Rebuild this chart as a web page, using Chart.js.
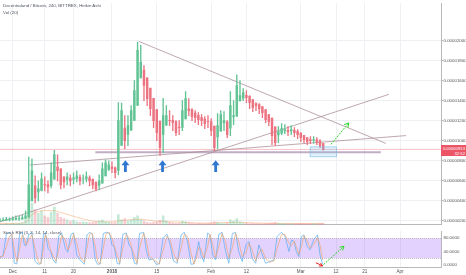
<!DOCTYPE html>
<html><head><meta charset="utf-8">
<script src="https://cdn.jsdelivr.net/npm/chart.js@4.4.1/dist/chart.umd.min.js"></script>
<style>
html,body{margin:0;padding:0;background:#fff;width:466px;height:275px;overflow:hidden;position:relative;font-family:"Liberation Sans",Arial,sans-serif;}
#main{position:absolute;left:0;top:0;}
#stoch{position:absolute;left:0;top:228px;}
.lbl{position:absolute;color:#4c525e;font-size:4.4px;white-space:nowrap;line-height:1;}
#price{position:absolute;left:441px;width:25px;height:11px;background:#ec5566;color:#fff;font-size:4.2px;text-align:right;line-height:5px;box-sizing:border-box;padding:0.6px 1px 0 0;}
</style></head><body>
<canvas id="main" width="466" height="228"></canvas>
<canvas id="stoch" width="466" height="47"></canvas>
<div class="lbl" style="left:3px;top:4px">Decentraland / Bitcoin, 240, BITTREX, Heikin Ashi</div>
<div class="lbl" style="left:3px;top:11px">Vol (20)</div>
<div class="lbl" style="left:3px;top:231px">Stoch RSI (3, 3, 14, 14, close)</div>
<div id="price"><div>0.00000913</div><div>32:52</div></div>
<script>
// ---- DATA (prices in 1e-8 BTC, x in days since Dec 1 2017) ----
const FIRST_DAY = -4;
const FIRST_OPEN = 200;
const closes = [205,210,215,212,220,225,222,230,
250,560,700,430,520,620,560,540,
680,860,700,560,590,640,600,630,
650,600,620,640,600,560,520,600,
720,780,760,720,680,1200,1300,1000,
1150,1300,1500,1900,1780,1550,1420,1320,
1200,1080,930,1250,1250,1200,1180,1080,
1130,1300,1420,1300,1240,1230,1210,1200,
1170,1190,1100,930,1150,1260,1200,1060,
1350,1250,1550,1450,1480,1430,1380,1330,
1350,1320,1280,1210,1190,1050,980,1090,
1120,1110,1090,1110,1080,1060,1030,1010,
990,1000,1010,990,950,913];
const highs = [225,230,235,230,240,250,245,260,
300,836,820,650,600,680,640,600,
780,905,860,680,640,680,660,680,
700,660,660,690,650,620,570,660,
780,810,800,790,740,1380,1376,1250,
1250,1350,1600,1980,1950,1750,1550,1420,
1320,1200,1080,1422,1350,1300,1250,1200,
1200,1400,1490,1420,1320,1300,1280,1260,
1240,1250,1220,1100,1270,1300,1290,1200,
1490,1400,1657,1600,1520,1500,1450,1400,
1380,1370,1330,1290,1250,1200,1080,1140,
1170,1160,1140,1150,1130,1110,1080,1050,
1030,1040,1040,1030,1010,960];
const lows = [195,200,205,200,205,210,205,215,
220,240,520,380,400,500,500,480,
530,650,600,520,530,560,550,570,
590,560,570,590,550,520,500,510,
590,700,700,680,630,660,1100,920,
950,1100,1250,1450,1650,1400,1350,1250,
1130,1000,853,880,1150,1150,1100,1050,
1060,1100,1250,1250,1200,1180,1160,1150,
1120,1130,1050,900,920,1150,1100,1030,
1050,1160,1250,1400,1400,1380,1320,1290,
1300,1270,1230,1180,1150,960,951,980,
1060,1070,1050,1060,1040,1020,990,980,
960,970,975,960,930,905];
const volumes = [3,2,4,3,5,4,6,8,
20,100,85,60,45,55,35,30,
50,70,45,30,25,20,15,18,
12,10,12,10,8,10,12,15,
20,12,10,8,10,40,20,25,
15,20,30,35,20,15,10,8,
10,12,18,35,15,10,8,6,
8,15,12,8,6,5,6,5,
5,6,8,12,10,6,5,8,
20,15,25,12,8,6,5,6,
5,5,4,5,6,8,10,6,
5,4,5,4,4,5,4,5,
4,4,5,4,5,6];
const volMaDays = [-4,4,6,9,13,16,20,25,30,35,40,45,50,60,70,80,97];
const volMaVals = [5,10,40,55,55,45,30,15,12,18,22,14,12,7,10,6,5];
const lastPrice = 913;

const kDays = [-4,-3,-2,-1,-0.3,0.5,1.3,2.2,3,3.6,4.2,5,6,7,8,8.8,9.6,10.2,11,11.8,12.6,13.5,14.4,15.3,16.4,17.2,18.2,19,20,21,22.4,23.2,24,24.8,25.8,26.5,27.3,28.3,29.2,30.2,31,31.7,32.6,33.4,34.4,35.5,36.3,37.1,38,38.8,39.6,40.9,41.8,42.6,43.8,44.8,45.8,47,48.2,49.2,50.2,51.4,52.6,53.6,54.6,55.7,56.6,57.4,58.1,58.8,59.7,60.9,61.6,62.5,63.4,64.4,65.4,66.5,67.5,68.6,69.6,70.6,71.7,72.8,73.8,74.8,75.9,76.9,77.8,79,80.2,81.6,82.6,83.9,85,86.3,87.1,87.9,88.6,89.4,90.2,91,92,92.9,94,95.2,96,96.8];
const kVals = [20,30,92,98,90,5,3,96,98,60,58,92,96,10,2,4,92,96,50,40,15,5,88,96,50,38,92,96,30,15,2,90,98,94,15,2,3,94,98,96,60,55,5,2,92,96,60,50,5,2,94,98,40,15,18,2,3,82,92,60,12,5,90,98,70,2,3,35,70,30,10,96,90,30,15,92,98,40,5,94,98,40,10,60,70,20,5,60,35,5,10,15,85,98,88,40,75,70,40,25,85,90,55,45,75,90,30,2];
const dVals = [25,26,55,85,93,45,10,50,90,80,60,75,90,50,8,3,50,90,75,45,28,12,45,90,75,45,65,92,65,25,8,50,92,95,55,10,3,50,95,96,80,58,30,5,50,92,80,55,28,5,50,95,70,28,16,10,3,45,86,75,35,10,50,92,85,35,3,20,52,50,20,55,92,60,22,55,94,70,22,50,95,70,25,35,65,45,12,35,48,20,8,12,50,90,92,65,58,72,55,32,55,88,72,50,60,82,60,15];

const tickDays = [0,10,19,31,45,62,73,90,101,110,121];
const tickLabels = ['Dec','11','20','2018','15','Feb','12','Mar','12','21','Apr'];
const priceTicks = [200,400,600,800,1000,1200,1400,1600,1800,2000];
const stochTicks = [0,40,80];

// drawings (data coordinates)
const trendLines = [
  [[39.4,1990],[116.6,973]],
  [[-4,190],[117.5,1462]],
  [[5.4,758],[122.9,1051]],
];
const supportLine = [[25.8,885],[115,885]];
const boxDays = [92.8,101.3];
const boxPrices = [943,836];
const upArrowDays = [35.2,46.8,63.4];
const upArrowTip = 806, upArrowBase = 689;
const greenArrow = [[99.4,963],[105,1178]];
const stochRedArrow = [[94.7,6.6],[96.8,-2.8]];
const stochGreenArrow = [[97.1,1],[103.5,56]];

// ---- CHART ----
Chart.defaults.font.family = '"Liberation Sans", Arial, sans-serif';
const X_MIN = -3.98, X_MAX = 133.8;
const UP = '#62c394', DOWN = '#ec7482';
const days = closes.map((_, i) => FIRST_DAY + i);
const haOpen = [];
closes.forEach((c, i) => haOpen.push(i === 0 ? FIRST_OPEN : (haOpen[i-1] + closes[i-1]) / 2));
const isUp = closes.map((c, i) => c >= haOpen[i]);

const bodies = days.map((d, i) => ({x: d, y: [Math.min(haOpen[i], closes[i]), Math.max(haOpen[i], closes[i]) + 0.5]}));
const wicks = days.map((d, i) => ({x: d, y: [Math.min(lows[i], haOpen[i], closes[i]), Math.max(highs[i], haOpen[i], closes[i])]}));
const vols = days.map((d, i) => ({x: d, y: volumes[i]}));

function arrowHead(ctx, x1, y1, x2, y2, len) {
  const a = Math.atan2(y2 - y1, x2 - x1);
  ctx.beginPath();
  ctx.moveTo(x2 - len * Math.cos(a - 0.5), y2 - len * Math.sin(a - 0.5));
  ctx.lineTo(x2, y2);
  ctx.lineTo(x2 - len * Math.cos(a + 0.5), y2 - len * Math.sin(a + 0.5));
  ctx.stroke();
}
function drawArrow(ctx, xs, ys, p, color, dashed, head) {
  const x1 = xs.getPixelForValue(p[0][0]), y1 = ys.getPixelForValue(p[0][1]);
  const x2 = xs.getPixelForValue(p[1][0]), y2 = ys.getPixelForValue(p[1][1]);
  ctx.save();
  ctx.strokeStyle = color; ctx.lineWidth = 1;
  if (dashed) ctx.setLineDash([2, 1.2]);
  ctx.beginPath(); ctx.moveTo(x1, y1); ctx.lineTo(x2, y2); ctx.stroke();
  ctx.setLineDash([]);
  arrowHead(ctx, x1, y1, x2, y2, head);
  ctx.restore();
}

const annotMain = {
  id: 'annotMain',
  afterDatasetsDraw(chart) {
    const {ctx, scales: {x, y}} = chart;
    ctx.save();
    const bx1 = x.getPixelForValue(boxDays[0]), bx2 = x.getPixelForValue(boxDays[1]);
    const by1 = y.getPixelForValue(boxPrices[0]), by2 = y.getPixelForValue(boxPrices[1]);
    ctx.fillStyle = 'rgba(120,190,235,0.22)';
    ctx.strokeStyle = 'rgba(120,190,235,0.55)';
    ctx.lineWidth = 1;
    ctx.fillRect(bx1, by1, bx2 - bx1, by2 - by1);
    ctx.strokeRect(bx1 + 0.5, by1 + 0.5, bx2 - bx1 - 1, by2 - by1 - 1);
    // blue up arrows
    ctx.fillStyle = '#2f78d0';
    upArrowDays.forEach(d => {
      const px = x.getPixelForValue(d);
      const t = y.getPixelForValue(upArrowTip), b = y.getPixelForValue(upArrowBase);
      const hh = 5, hw = 4, sw = 1.4;
      ctx.beginPath();
      ctx.moveTo(px, t);
      ctx.lineTo(px + hw, t + hh);
      ctx.lineTo(px + sw, t + hh);
      ctx.lineTo(px + sw, b);
      ctx.lineTo(px - sw, b);
      ctx.lineTo(px - sw, t + hh);
      ctx.lineTo(px - hw, t + hh);
      ctx.closePath();
      ctx.fill();
    });
    ctx.restore();
    drawArrow(ctx, x, y, greenArrow, '#2bd62b', true, 5);
    const el = document.getElementById('price');
    el.style.top = (y.getPixelForValue(lastPrice) - 4.5) + 'px';
  }
};

const lineDs = (pts, color, w) => ({
  type: 'line', data: pts.map(p => ({x: p[0], y: p[1]})), borderColor: color, borderWidth: w,
  pointRadius: 0, fill: false, tension: 0, yAxisID: 'y'
});

new Chart(document.getElementById('main'), {
  type: 'bar',
  data: {
    datasets: [
      {data: vols, yAxisID: 'vol', grouped: false, barThickness: 2,
       backgroundColor: isUp.map(u => u ? 'rgba(92,191,141,0.35)' : 'rgba(234,111,124,0.35)')},
      {type: 'line', data: volMaDays.map((d, i) => ({x: d, y: volMaVals[i]})), yAxisID: 'vol',
       borderColor: 'rgba(245,160,90,0.6)', borderWidth: 0.8, pointRadius: 0, tension: 0.3},
      {data: wicks, yAxisID: 'y', grouped: false, barThickness: 0.7,
       backgroundColor: isUp.map(u => u ? UP : DOWN)},
      {data: bodies, yAxisID: 'y', grouped: false, barThickness: 1.8,
       backgroundColor: isUp.map(u => u ? UP : DOWN)},
      lineDs(trendLines[0], 'rgba(170,140,150,0.85)', 0.9),
      lineDs(trendLines[1], 'rgba(170,140,150,0.85)', 0.9),
      lineDs(trendLines[2], 'rgba(170,140,150,0.85)', 0.9),
      lineDs(supportLine, 'rgba(165,140,170,0.7)', 2),
      lineDs([[X_MIN, lastPrice], [X_MAX, lastPrice]], 'rgba(236,85,102,0.45)', 0.8),
    ]
  },
  options: {
    responsive: false, animation: false,
    layout: {padding: 0},
    plugins: {legend: {display: false}, tooltip: {enabled: false}},
    scales: {
      x: {type: 'linear', min: X_MIN, max: X_MAX, offset: false,
          grid: {color: '#eef0f4', drawTicks: false, offset: false},
          border: {display: true, color: '#b8b8b8'},
          ticks: {display: false},
          afterBuildTicks: s => { s.ticks = tickDays.map(v => ({value: v})); },
          afterFit: s => { s.height = 2; }},
      y: {position: 'right', min: 160.8, max: 2371.7,
          grid: {color: '#eef0f4', tickLength: 2, tickColor: '#b8b8b8'},
          border: {display: true, color: '#b8b8b8'},
          ticks: {font: {size: 4.4}, color: '#555', padding: 0.5,
                  callback: v => (v / 1e8).toFixed(8)},
          afterBuildTicks: s => { s.ticks = priceTicks.map(v => ({value: v})); },
          afterFit: s => { s.width = 25; }},
      vol: {display: false, min: 0, max: 870}
    }
  },
  plugins: [annotMain]
});

const stochPlugin = {
  id: 'stochBand',
  beforeDatasetsDraw(chart) {
    const {ctx, chartArea: a, scales: {y}} = chart;
    const y80 = y.getPixelForValue(80), y20 = y.getPixelForValue(20);
    ctx.save();
    ctx.fillStyle = 'rgba(150,80,250,0.26)';
    ctx.fillRect(a.left, y80, a.right - a.left, y20 - y80);
    ctx.strokeStyle = '#9a9a9a'; ctx.lineWidth = 0.6; ctx.setLineDash([1, 1]);
    [y80, y20].forEach(v => { ctx.beginPath(); ctx.moveTo(a.left, v); ctx.lineTo(a.right, v); ctx.stroke(); });
    ctx.restore();
  },
  afterDatasetsDraw(chart) {
    const {ctx, scales: {x, y}} = chart;
    drawArrow(ctx, x, y, stochRedArrow, '#ee2222', false, 3.5);
    drawArrow(ctx, x, y, stochGreenArrow, '#2bd62b', true, 4.5);
  }
};

new Chart(document.getElementById('stoch'), {
  type: 'line',
  data: {
    datasets: [
      {data: kDays.map((d, i) => ({x: d, y: dVals[i]})), borderColor: 'rgba(240,160,100,0.8)', borderWidth: 0.8, pointRadius: 0, tension: 0},
      {data: kDays.map((d, i) => ({x: d, y: kVals[i]})), borderColor: 'rgba(80,170,240,0.85)', borderWidth: 0.8, pointRadius: 0, tension: 0},
    ]
  },
  options: {
    responsive: false, animation: false,
    layout: {padding: 0},
    plugins: {legend: {display: false}, tooltip: {enabled: false}},
    scales: {
      x: {type: 'linear', min: X_MIN, max: X_MAX,
          grid: {color: '#eef0f4', drawTicks: false},
          border: {display: true, color: '#b8b8b8'},
          ticks: {autoSkip: false, maxRotation: 0, padding: 2, color: '#555',
                  font: c => ({size: 4.6, weight: (c.tick && c.tick.value === 31) ? 'bold' : 'normal'}),
                  callback: (v, i) => tickLabels[i]},
          afterBuildTicks: s => { s.ticks = tickDays.map(v => ({value: v})); },
          afterFit: s => { s.height = 8; }},
      y: {position: 'right', min: -6.3, max: 101.4,
          grid: {display: false, drawTicks: true, tickLength: 2, tickColor: '#b8b8b8'},
          border: {display: true, color: '#b8b8b8'},
          ticks: {font: {size: 4.4}, color: '#555', padding: 0.5, callback: v => v.toFixed(4)},
          afterBuildTicks: s => { s.ticks = stochTicks.map(v => ({value: v})); },
          afterFit: s => { s.width = 25; }}
    }
  },
  plugins: [stochPlugin]
});
</script>
</body></html>
